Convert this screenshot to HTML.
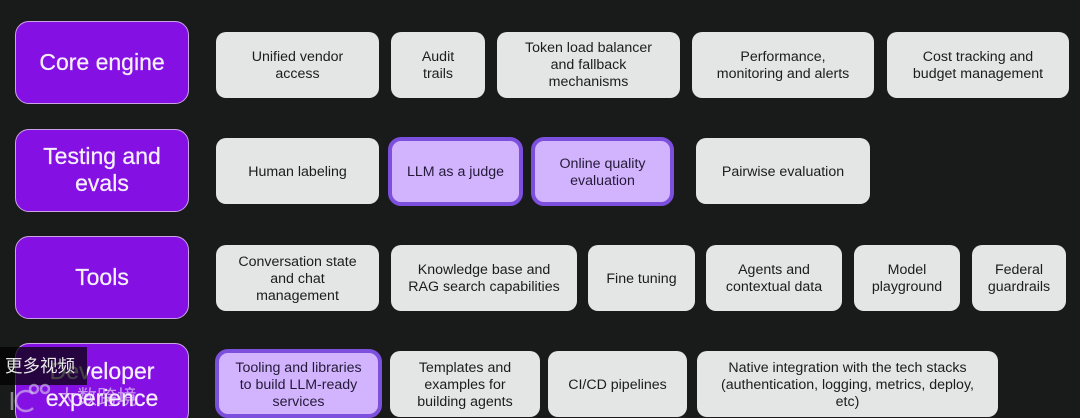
<!DOCTYPE html>
<html><head><meta charset="utf-8"><style>
html,body{margin:0;padding:0;background:#191a1a;width:1080px;height:418px;overflow:hidden}
body{position:relative;font-family:"Liberation Sans",sans-serif}
#w{position:absolute;left:0;top:0;width:1080px;height:418px;filter:blur(.35px)}
.h,.g,.p{position:absolute;box-sizing:border-box;display:flex;align-items:center;justify-content:center;text-align:center}
.h{left:15px;width:174px;height:83px;background:#8510e4;border:1px solid #c9a3e6;border-radius:14px;color:#f6effc;font-size:23px;line-height:27px;font-weight:400;-webkit-text-stroke:.25px #f6effc}
.g{height:66px;background:#e3e6e4;border-radius:10px;color:#1c1c1c;font-size:14.2px;line-height:17px;padding-top:2px}
.p{background:#d2b4fe;border:4px solid #7c4fdc;border-radius:13px;color:#241a38;font-size:14.2px;line-height:17px;padding-top:2px}
.r1{padding-top:1px}
.o{position:absolute;left:0;top:347px;width:87px;height:38px;box-sizing:border-box;padding-left:5px;background:rgba(0,0,0,.72);color:#e8e8e8;font:17.5px/38px "Liberation Sans","Noto Sans CJK SC",sans-serif;text-align:left}
.w{position:absolute;left:57px;top:382px;color:rgba(235,225,245,.65);font:20px/32px "Liberation Sans","Noto Sans CJK SC",sans-serif}
</style></head><body><div id="w">
<div class="h" style="top:21px">Core engine</div>
<div class="h" style="top:129px;padding-bottom:2px">Testing and<br>evals</div>
<div class="h" style="top:236px">Tools</div>
<div class="h" style="top:343px">Developer<br>experience</div>

<div class="g r1" style="left:216px;top:32px;width:163px">Unified vendor<br>access</div>
<div class="g r1" style="left:391px;top:32px;width:94px">Audit<br>trails</div>
<div class="g r1" style="left:497px;top:32px;width:183px">Token load balancer<br>and fallback<br>mechanisms</div>
<div class="g r1" style="left:692px;top:32px;width:182px">Performance,<br>monitoring and alerts</div>
<div class="g r1" style="left:887px;top:32px;width:182px">Cost tracking and<br>budget management</div>

<div class="g" style="left:216px;top:138px;width:163px">Human labeling</div>
<div class="p" style="left:388px;top:137px;width:135px;height:69px">LLM as a judge</div>
<div class="p" style="left:531px;top:137px;width:143px;height:69px">Online quality<br>evaluation</div>
<div class="g" style="left:696px;top:138px;width:174px">Pairwise evaluation</div>

<div class="g" style="left:216px;top:245px;width:163px">Conversation state<br>and chat<br>management</div>
<div class="g" style="left:391px;top:245px;width:186px">Knowledge base and<br>RAG search capabilities</div>
<div class="g" style="left:588px;top:245px;width:107px">Fine tuning</div>
<div class="g" style="left:706px;top:245px;width:136px">Agents and<br>contextual data</div>
<div class="g" style="left:854px;top:245px;width:106px">Model<br>playground</div>
<div class="g" style="left:972px;top:245px;width:94px">Federal<br>guardrails</div>

<div class="p" style="left:215px;top:349px;width:167px;height:69px;padding-top:3px">Tooling and libraries<br>to build LLM-ready<br>services</div>
<div class="g" style="left:390px;top:351px;width:150px">Templates and<br>examples for<br>building agents</div>
<div class="g" style="left:548px;top:351px;width:139px">CI/CD pipelines</div>
<div class="g" style="left:697px;top:351px;width:301px">Native integration with the tech stacks<br>(authentication, logging, metrics, deploy,<br>etc)</div>

<div class="o">更多视频</div>
<div class="w">大数跨境</div>
<svg style="position:absolute;left:8px;top:382px" width="46" height="34" viewBox="0 0 46 34" fill="none" stroke="#d9cfe6" stroke-opacity=".6" stroke-width="2.5"><path d="M4 10v18"/><path d="M25 12a10 10 0 1 0 0 14"/><circle cx="26" cy="7" r="4"/><circle cx="37" cy="7" r="4"/></svg>
</div></body></html>
